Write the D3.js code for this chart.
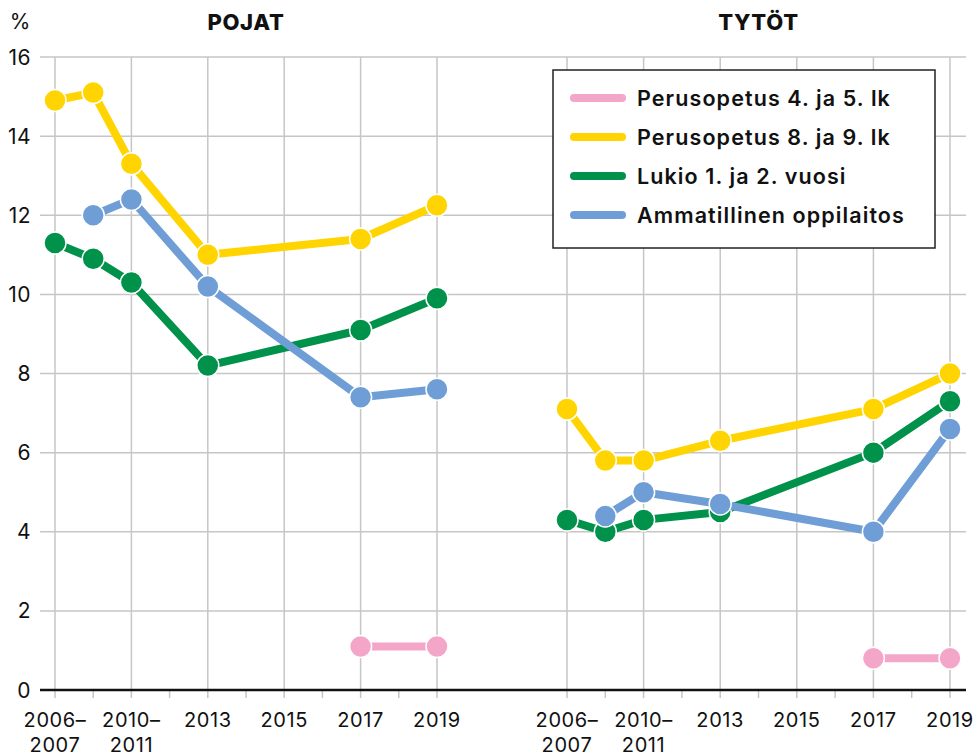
<!DOCTYPE html>
<html>
<head>
<meta charset="utf-8">
<script src="https://cdn.jsdelivr.net/npm/d3@7"></script>
<style>
  body { margin: 0; background: #fff; }
  svg { display: block; font-family: Inter, 'Liberation Sans', sans-serif; }
</style>
</head>
<body>
<div id="chart"><svg width="977" height="756"></svg></div>
<script>
// data
const periods = ['2006–2007', '2008–2009', '2010–2011', '2012', '2013', '2014', '2015', '2016', '2017', '2018', '2019'];
const surveyYears = ['2006–2007', '2008–2009', '2010–2011', '2013', '2017', '2019'];
const majorTicks = ['2006–2007', '2010–2011', '2013', '2015', '2017', '2019'];
const minorTicks = ['2008–2009', '2012', '2014', '2016', '2018'];
const yTicks = [0, 2, 4, 6, 8, 10, 12, 14, 16];

const seriesNames = ['Perusopetus 4. ja 5. lk', 'Perusopetus 8. ja 9. lk', 'Lukio 1. ja 2. vuosi', 'Ammatillinen oppilaitos'];
const seriesColors = ['#f4a6c8', '#ffd400', '#00924a', '#6f9ed6'];

// boys (POJAT), null = no value
const pojatPerus45 = [null, null, null, null, 1.1, 1.1];
const pojatPerus89 = [14.9, 15.1, 13.3, 11.0, 11.4, 12.25];
const pojatLukio = [11.3, 10.9, 10.3, 8.2, 9.1, 9.9];
const pojatAmis = [null, 12.0, 12.4, 10.2, 7.4, 7.6];

// girls (TYTÖT)
const tytotPerus45 = [null, null, null, null, 0.8, 0.8];
const tytotPerus89 = [7.1, 5.8, 5.8, 6.3, 7.1, 8.0];
const tytotLukio = [4.3, 4.0, 4.3, 4.5, 6.0, 7.3];
const tytotAmis = [null, 4.4, 5.0, 4.7, 4.0, 6.6];

const panels = [
  { title: 'POJAT', range: [55, 437], series: [pojatPerus45, pojatPerus89, pojatLukio, pojatAmis] },
  { title: 'TYTÖT', range: [567, 950], series: [tytotPerus45, tytotPerus89, tytotLukio, tytotAmis] },
];

const SVG = d3.select('#chart svg');
const Y = d3.scaleLinear().domain([0, 16]).range([690, 57]);
const GRID = '#c6c6c6';

// horizontal grid
SVG.append('g')
  .selectAll('line')
  .data(yTicks.filter((d) => d > 0))
  .join('line')
  .attr('x1', 40)
  .attr('x2', 966)
  .attr('y1', (d) => Y(d))
  .attr('y2', (d) => Y(d))
  .style('stroke', GRID)
  .style('stroke-width', 1.5);

SVG.append('g')
  .selectAll('text')
  .data(yTicks)
  .join('text')
  .text((d) => d)
  .attr('x', 31)
  .attr('y', (d) => Y(d))
  .attr('dy', '0.36em')
  .style('text-anchor', 'end')
  .style('font-size', '21px')
  .style('letter-spacing', '0.5px')
  .style('fill', '#111');

SVG.append('text')
  .text('%')
  .attr('x', 20)
  .attr('y', 29)
  .style('text-anchor', 'middle')
  .style('font-size', '21px')
  .style('fill', '#111');

panels.forEach((panel) => {
  const X = d3.scalePoint().domain(periods).range(panel.range);
  const G = SVG.append('g');

  G.selectAll('line.major')
    .data(majorTicks)
    .join('line')
    .attr('class', 'major')
    .attr('x1', (d) => X(d))
    .attr('x2', (d) => X(d))
    .attr('y1', Y(16))
    .attr('y2', Y(0) + 8)
    .style('stroke', GRID)
    .style('stroke-width', 1.5);

  G.selectAll('line.minor')
    .data(minorTicks)
    .join('line')
    .attr('class', 'minor')
    .attr('x1', (d) => X(d))
    .attr('x2', (d) => X(d))
    .attr('y1', Y(0))
    .attr('y2', Y(0) + 8)
    .style('stroke', GRID)
    .style('stroke-width', 1.5);

  majorTicks.forEach((t) => {
    const T = G.append('text')
      .attr('x', X(t))
      .attr('y', 727)
      .style('text-anchor', 'middle')
      .style('font-size', '20px')
      .style('letter-spacing', '0.6px')
      .style('fill', '#111');
    const parts = t.includes('–') ? [t.split('–')[0] + '–', t.split('–')[1]] : [t];
    parts.forEach((line, j) => {
      T.append('tspan').attr('x', X(t)).attr('dy', j === 0 ? 0 : 25).text(line);
    });
  });

  G.append('text')
    .text(panel.title)
    .attr('x', (panel.range[0] + panel.range[1]) / 2)
    .attr('y', 30)
    .style('text-anchor', 'middle')
    .style('font-weight', '800')
    .style('font-size', '22px')
    .style('letter-spacing', '0.7px')
    .style('fill', '#111');

  panel.series.forEach((values, s) => {
    const pts = surveyYears.map((p, i) => ({ p, v: values[i] })).filter((d) => d.v !== null);
    const line = d3.line().x((d) => X(d.p)).y((d) => Y(d.v));
    G.append('path')
      .attr('d', line(pts))
      .style('fill', 'none')
      .style('stroke', seriesColors[s])
      .style('stroke-width', 8)
      .style('stroke-linejoin', 'round');
    G.selectAll(`circle.s${s}`)
      .data(pts)
      .join('circle')
      .attr('class', `s${s}`)
      .attr('cx', (d) => X(d.p))
      .attr('cy', (d) => Y(d.v))
      .attr('r', 11)
      .style('fill', seriesColors[s])
      .style('stroke', '#fff')
      .style('stroke-width', 1.5);
  });
});

// x axis line
SVG.append('line')
  .attr('x1', 40)
  .attr('x2', 966)
  .attr('y1', Y(0))
  .attr('y2', Y(0))
  .style('stroke', '#111')
  .style('stroke-width', 2.5);

// legend
const LEG = SVG.append('g').attr('transform', 'translate(553, 70)');
LEG.append('rect')
  .attr('width', 382)
  .attr('height', 178)
  .style('fill', '#fff')
  .style('stroke', '#222')
  .style('stroke-width', 1.5);

seriesNames.forEach((name, i) => {
  const y = 28 + i * 39;
  LEG.append('line')
    .attr('x1', 21)
    .attr('x2', 69)
    .attr('y1', y)
    .attr('y2', y)
    .style('stroke', seriesColors[i])
    .style('stroke-width', 8)
    .style('stroke-linecap', 'round');
  LEG.append('text')
    .text(name)
    .attr('x', 84)
    .attr('y', y)
    .attr('dy', '0.36em')
    .style('font-size', '21.5px')
    .style('font-weight', '600')
    .style('letter-spacing', '1.1px')
    .style('fill', '#111');
});
</script>
</body>
</html>
